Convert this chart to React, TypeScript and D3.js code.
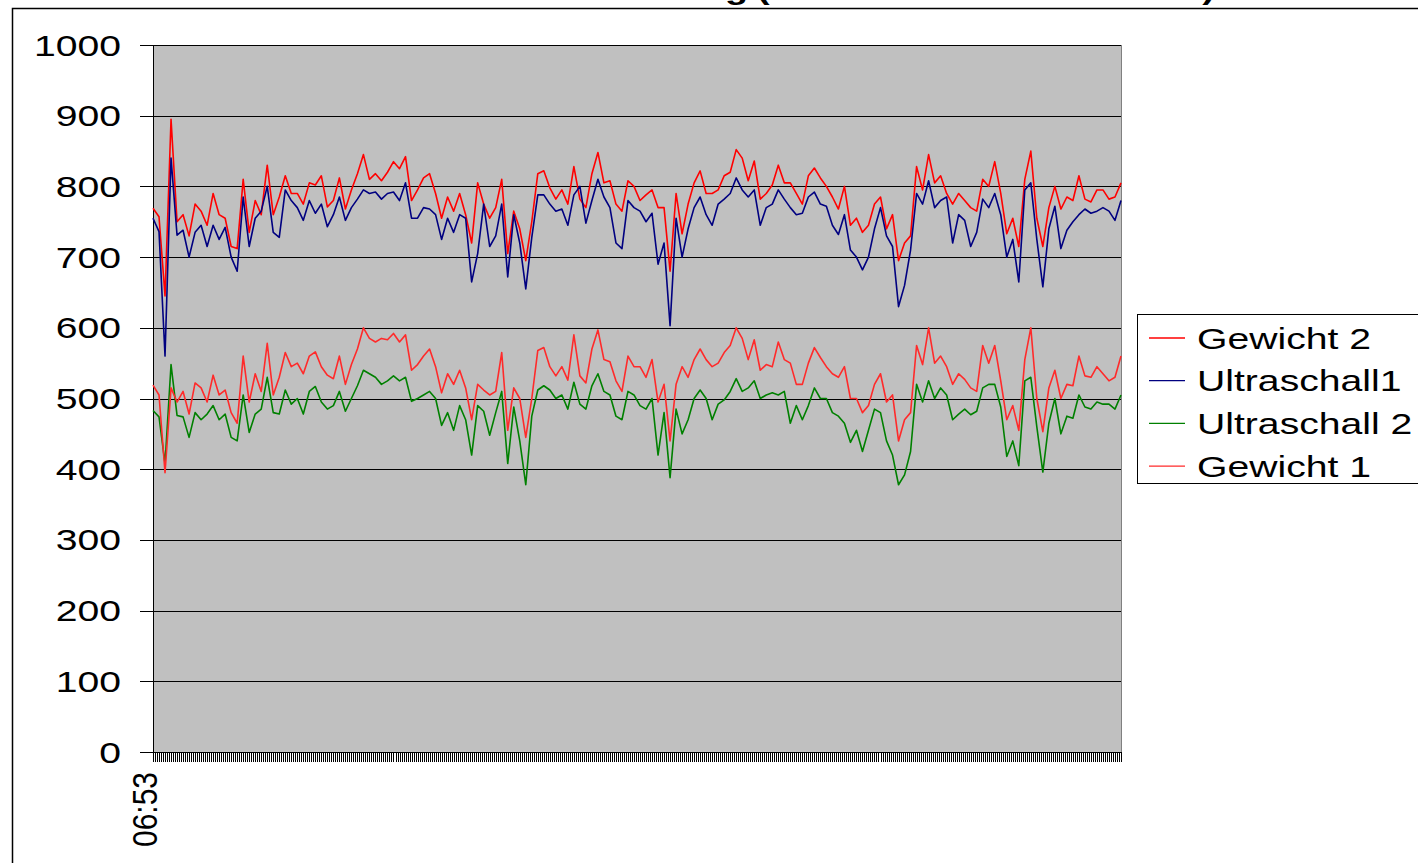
import React from 'react';
import * as d3 from 'd3';

// Series values (one value roughly every 6 px)
const gewicht2 = [
  769, 757, 645, 895, 750, 760, 730, 775, 765, 745, 790, 760, 755, 715, 712, 810, 735, 780, 760, 830, 760, 785, 815, 790, 790, 775, 805,
  802, 815, 771, 780, 812, 768, 795, 818, 845, 810, 818, 808, 820, 835, 825, 842, 780, 795, 812, 818, 790, 755, 785, 765, 790, 760, 720,
  805, 775, 755, 770, 810, 705, 765, 740, 695, 750, 818, 822, 798, 782, 795, 775, 828, 782, 770, 818, 848, 805, 808, 775, 765, 808, 800,
  780, 788, 795, 770, 770, 680, 790, 733, 775, 805, 822, 790, 790, 795, 815, 820, 852, 840, 808, 836, 782, 790, 802, 830, 805, 805, 790,
  775, 815, 826, 812, 800, 785, 768, 800, 745, 755, 735, 745, 775, 785, 740, 760, 695, 720, 730, 828, 795, 845, 805, 815, 790, 775, 790,
  780, 770, 765, 810, 800, 835, 790, 733, 755, 715, 810, 850, 755, 715, 770, 800, 768, 785, 780, 815, 782, 778, 795, 795, 782, 785, 805,
];

const ultraschall1 = [
  755, 736, 560, 840, 731, 738, 700, 735, 745, 715, 745, 725, 742, 700, 680, 785, 715, 755, 765, 800, 735, 728, 795, 780, 770, 752, 780,
  762, 775, 743, 760, 785, 752, 770, 782, 795, 790, 792, 782, 790, 792, 780, 805, 755, 755, 770, 768, 760, 725, 755, 735, 760, 755, 665,
  705, 775, 715, 730, 775, 672, 760, 720, 655, 728, 788, 788, 775, 765, 768, 745, 788, 800, 748, 780, 810, 785, 770, 720, 712, 780, 770,
  765, 750, 762, 690, 720, 603, 755, 700, 740, 770, 785, 760, 745, 775, 782, 790, 812, 795, 785, 795, 745, 770, 775, 795, 782, 770, 760,
  762, 785, 792, 775, 772, 745, 732, 760, 710, 700, 682, 700, 740, 770, 730, 715, 630, 660, 710, 790, 775, 808, 770, 780, 785, 720, 760,
  752, 715, 735, 782, 770, 790, 760, 700, 725, 665, 795, 805, 725, 658, 740, 772, 712, 738, 750, 760, 768, 762, 765, 770, 765, 752, 780,
];

const ultraschall2 = [
  483, 474, 408, 548, 476, 474, 445, 480, 470, 478, 490, 470, 478, 445, 440, 505, 452, 478, 485, 530, 480, 478, 512, 492, 500, 478, 510,
  517, 495, 485, 490, 510, 482, 500, 518, 540, 535, 530, 520, 525, 532, 525, 530, 496, 500, 505, 510, 500, 462, 480, 455, 490, 470, 420,
  490, 482, 448, 480, 510, 408, 488, 440, 378, 475, 512, 518, 512, 500, 505, 485, 523, 492, 485, 518, 535, 510, 505, 475, 470, 510, 505,
  490, 485, 500, 420, 480, 388, 485, 450, 470, 500, 512, 500, 470, 492, 498, 510, 528, 510, 515, 525, 500, 505, 508, 505, 510, 465, 490,
  470, 490, 515, 500, 500, 480, 475, 465, 438, 455, 425, 455, 485, 480, 440, 420, 378, 392, 425, 520, 495, 525, 500, 515, 505, 470, 478,
  485, 477, 482, 515, 520, 520, 488, 418, 440, 405, 525, 530, 460, 396, 465, 500, 450, 475, 472, 505, 488, 485, 495, 492, 492, 485, 505,
];

const gewicht1 = [
  519, 505, 395, 515, 495, 510, 478, 522, 515, 495, 533, 505, 512, 480, 465, 560, 495, 535, 510, 578, 505, 530, 565, 545, 550, 535, 560,
  566, 545, 533, 528, 560, 520, 548, 570, 600, 585, 580, 585, 583, 592, 580, 590, 540, 548, 560, 570, 545, 508, 535, 520, 540, 515, 470,
  520, 512, 505, 510, 565, 455, 515, 500, 445, 500, 568, 572, 545, 532, 545, 526, 590, 532, 522, 570, 597, 555, 552, 525, 510, 560, 545,
  545, 530, 555, 495, 520, 440, 520, 545, 530, 555, 570, 555, 545, 550, 565, 575, 600, 585, 555, 583, 540, 548, 545, 580, 555, 550, 520,
  520, 550, 572, 558, 545, 535, 530, 545, 500, 500, 480, 490, 520, 535, 495, 505, 440, 470, 480, 575, 548, 600, 550, 560, 545, 520, 535,
  527, 515, 510, 575, 550, 575, 525, 470, 490, 455, 555, 600, 500, 453, 515, 540, 500, 520, 518, 560, 532, 530, 545, 535, 525, 530, 560,
];

const yTickValues = [0, 100, 200, 300, 400, 500, 600, 700, 800, 900, 1000];
const xTickLabel = '06:53';
const seriesNames = ['Gewicht 2', 'Ultraschall1', 'Ultraschall 2', 'Gewicht 1'];
const titleMain = 'Messung';
const titleParen = '(Gewicht und Ultraschall)';

export default function App() {
  const W = 1418;
  const H = 863;
  const left = 153;
  const right = 1121;
  const top = 45;
  const bottom = 752;
  const n = gewicht2.length;

  const x = d3.scaleLinear().domain([0, n - 1]).range([left, right]);
  const y = d3.scaleLinear().domain([0, 1000]).range([bottom, top]);
  const line = d3
    .line<number>()
    .x((_, i) => x(i))
    .y((d) => y(d));

  const series = [
    { name: seriesNames[0], data: gewicht2, color: '#ff0000' },
    { name: seriesNames[1], data: ultraschall1, color: '#000080' },
    { name: seriesNames[2], data: ultraschall2, color: '#008000' },
    { name: seriesNames[3], data: gewicht1, color: '#ff2a2a' },
  ];

  const minorTicks = d3.range(0, n - 1 + 1e-9, 1 / 3);
  const font = "'Liberation Sans', Arial, sans-serif";
  const sx = 1.35;

  return (
    <svg
      width={W}
      height={H}
      style={{ position: 'absolute', left: 0, top: 0, display: 'block', background: '#fff' }}
      fontFamily={font}
    >
      {/* Title (mostly cut off at the top) */}
      <text
        transform={`translate(748,-1) scale(${sx},1)`}
        textAnchor="end"
        fontWeight="bold"
        fontSize={28}
        fill="#000"
      >
        {titleMain}
      </text>
      <text
        x={757}
        y={-1}
        fontWeight="bold"
        fontSize={28}
        textLength={458}
        lengthAdjust="spacingAndGlyphs"
        fill="#000"
      >
        {titleParen}
      </text>

      {/* outer chart border */}
      <path d={`M12.5,${H} V8.5 H${W}`} fill="none" stroke="#000" strokeWidth={1.5} />

      {/* plot area */}
      <rect x={left} y={top} width={right - left} height={bottom - top} fill="#c0c0c0" />
      <line x1={right + 0.5} x2={right + 0.5} y1={top} y2={bottom} stroke="#808080" strokeWidth={1} />

      {/* gridlines */}
      {yTickValues.map((v) => {
        const yy = Math.round(y(v)) + 0.5;
        return (
          <line key={'g' + v} x1={left} x2={right} y1={yy} y2={yy} stroke="#000" strokeWidth={1} shapeRendering="crispEdges" />
        );
      })}

      {/* y axis */}
      <line x1={left + 0.5} x2={left + 0.5} y1={top} y2={bottom} stroke="#000" strokeWidth={1} shapeRendering="crispEdges" />
      {yTickValues.map((v) => {
        const yy = Math.round(y(v)) + 0.5;
        return (
          <g key={'t' + v}>
            <line x1={140} x2={left} y1={yy} y2={yy} stroke="#000" strokeWidth={1} shapeRendering="crispEdges" />
            <text
              transform={`translate(121,${y(v) + 10.5}) scale(${sx},1)`}
              textAnchor="end"
              fontSize={29}
              fill="#000"
            >
              {v}
            </text>
          </g>
        );
      })}

      {/* x axis */}
      <line x1={left} x2={right} y1={bottom + 0.5} y2={bottom + 0.5} stroke="#000" strokeWidth={1} shapeRendering="crispEdges" />
      {minorTicks.map((t, i) => {
        const xx = Math.round(x(t)) + 0.5;
        return (
          <line key={'xt' + i} x1={xx} x2={xx} y1={bottom} y2={bottom + 10} stroke="#000" strokeWidth={1} shapeRendering="crispEdges" />
        );
      })}
      <text
        transform={`translate(${x(0) + 4},772) rotate(-90) scale(1,1.15)`}
        textAnchor="end"
        fontSize={30}
        fill="#000"
      >
        {xTickLabel}
      </text>

      {/* series */}
      <g clipPath="none">
        {series.map((s) => (
          <path
            key={s.name}
            d={line(s.data) || ''}
            fill="none"
            stroke={s.color}
            strokeWidth={1.6}
            strokeLinejoin="round"
          />
        ))}
      </g>

      {/* legend */}
      <rect x={1137.5} y={314.5} width={300} height={169} fill="#fff" stroke="#000" strokeWidth={1} />
      {series.map((s, i) => {
        const ry = 338 + i * 42.7;
        return (
          <g key={'l' + s.name}>
            <line x1={1149} x2={1185} y1={ry} y2={ry} stroke={s.color} strokeWidth={1.3} />
            <text
              transform={`translate(1197,${ry + 10.5}) scale(${sx},1)`}
              fontSize={29}
              fill="#000"
            >
              {s.name}
            </text>
          </g>
        );
      })}
    </svg>
  );
}
